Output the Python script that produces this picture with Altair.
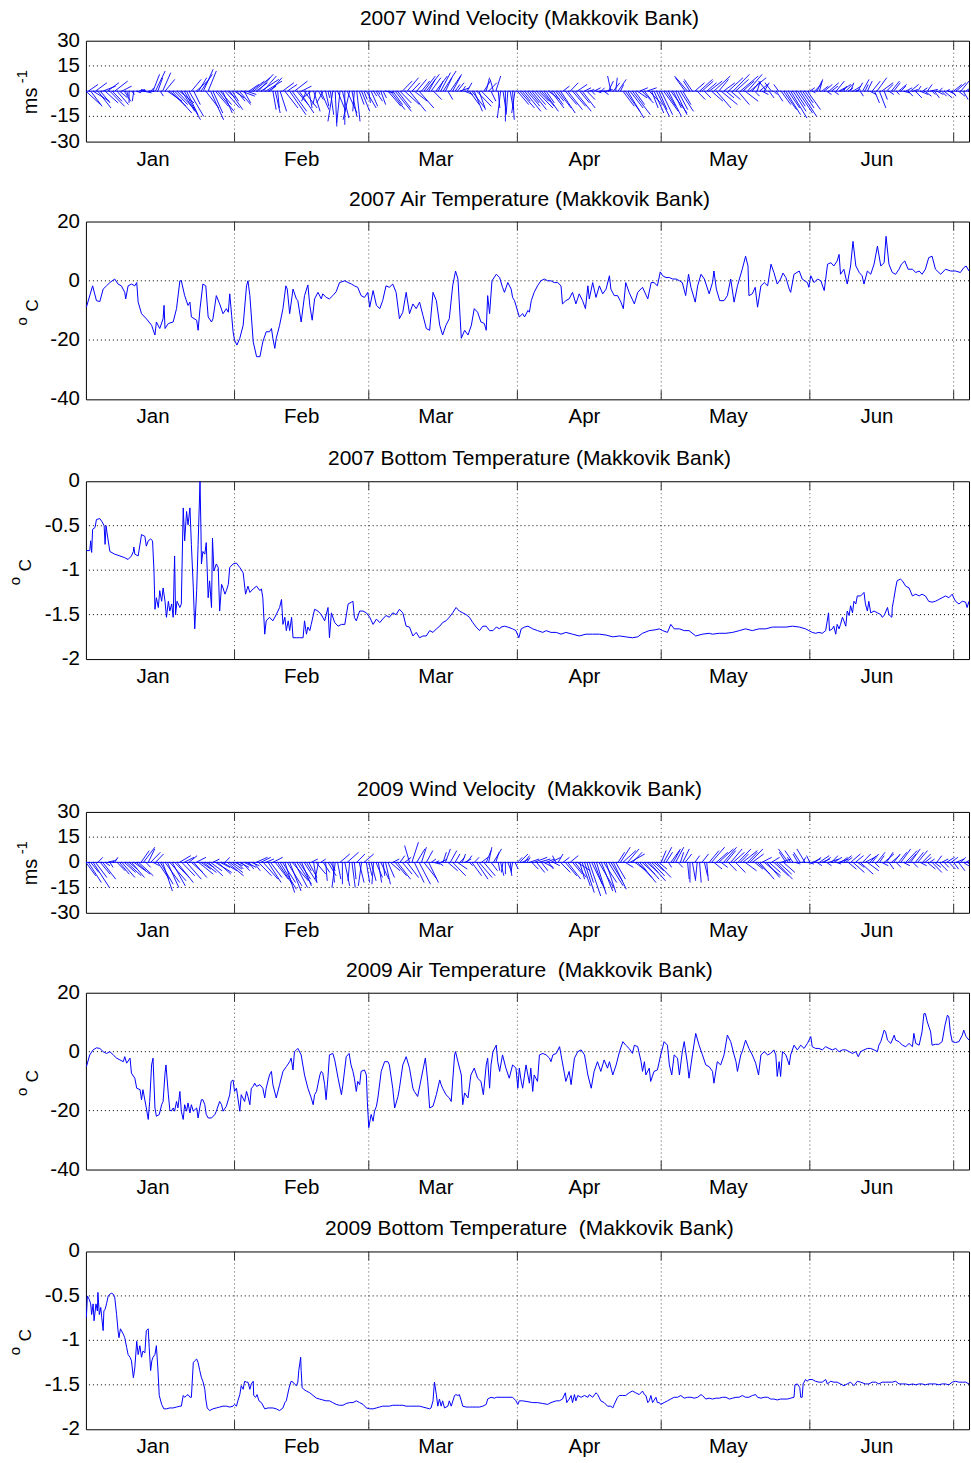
import altair as alt
import pandas as pd

# ---------------------------------------------------------------- time axis
MONTHS = ["Jan", "Feb", "Mar", "Apr", "May", "Jun"]
MONTH_START = [0, 31, 59, 90, 120, 151, 181]   # day offsets from 1 January
MONTH_MID = [14, 45, 73, 104, 134, 165]        # the 15th of each month
X_END = 184.2

# ---------------------------------------------------------------- wind sticks (m/s, every half day)
WIND_STEP = 0.5
WIND_2007_V = [
    -8, 4, -9, -6, 5, -10, -7, 3,
    -7, 5, -9, -6, 6, -8, -4, 3, -6,
    -3, -7, -2, -6, -1,
    1, 0, -1, 1, 0, 2,
    10, 12, 8, -3, 11, 7,
    -6, -9, -13, -8, -11, -7,
    -12, -17, -14, -15,
    7, -8, 6, 8,
    10, 13, -10, 12, -17, -13,
    -9, -12, -8, -13, -10, -4, -11, -6,
    -4, -6, -8, -3, -7, -2,
    4, 6, 8, 5, 10, 7, 9, 6, 3, 8,
    -11, -13, -10, -12,
    5, -10, 4, -14, -12, 6, -8, -13, 3, -10,
    -6, -10, -4, -12, -8, -5, -11, -7, -9, -4,
    -14, -18, -21, -12, -19, -16, -20, -13, -17, -15, -12, -18,
    -8, -12, -5, -10, -7, -9,
    -3, -6, -2, -8, -4, -1,
    -9, -11, -8, -12, -10, -7,
    6, -8, 8, -12, 5, -6, 7, -10,
    6, 9, 10, 7, 8, -5, 9, 6,
    11, 12, 8, -5, 10, 9,
    4, 5, 2, 3, -2, 5,
    -8, -10, -12, -9, -11, -7,
    6, 8, 5, -6, 7, 9,
    -10, -16, -12, -18, -14, -11, -17, -13,
    -8, -10, -6, -12, -9, -7, -11, -8, -10, -6, -9, -12, -7, -5, -10, -8,
    -6, -10, -13, 3, -8, -11, 5, -9, -12, 4, -7, -10, 2, -5,
    1, -2, 2, -1, 0, 2, -2, 1,
    6, 9, 5, 8, 7, 4,
    -9, -12, -16, -10, -14, -8,
    -4, 2, -7, -5, 2, -8,
    -10, -13, -15, -11, -14, -12, -9, -15, -13, -10, -14, -11, -12, -8,
    8, 9, 6, 7,
    5, -5, 7, 6, -4, 5,
    6, -6, 9, -10, 7, -8, 5, -4,
    8, -5, 10, 7, -8, 9, 6, -6, 10, 8,
    5, -3, 6, 4, -2, 5,
    6, -4, 5, -2, -6, 4,
    -8, -11, -14, -10, -16, -12, -9, -13, -15, -10, -7, -11,
    2, -1, 4, 6, 7, 3,
    4, -2, 5, 3, -2, 6, 2, 4,
    3, 4, 2, 5, 3, 1,
    5, -3, 7, 4, 6, -2,
    6, -7, 8, -10, 5, -5,
    4, -2, 6, 5, -2, 4, 3, -1,
    2, -3, 4, 1, -4, 3, -2, 2, -3, 4, 1, -2,
    -4, -2, 2, -3, -4, 1, -2, -3,
    4, 5, -3, 6, -5, 4, 3,
]
WIND_2007_U = [
    9, 6, 7, 10, 7, 8, 6, 8,
    8, 7, 9, 6, 8, 7, 5, 6, 4,
    1, 0, 2, -1, 3,
    4, 3, 5, -3, 4, 2,
    4, 6, 3, 2, 5, 6,
    9, 10, 12, 8, 11, 9,
    8, 10, 7, 9,
    6, 4, 7, 5,
    7, 6, 8, 5, 8, 6,
    8, 10, 7, 6, 9, 5, 8, 4,
    6, 5, 7, 8, 4, 6,
    6, 8, 10, 7, 9, 11, 8, 10, 5, 7,
    2, 3, 1, 4,
    7, 8, 6, 10, 9, 8, 7, 9, 6, 8,
    -3, 2, -5, 4, -2, 3, 5, -4, 2, 1,
    2, -3, 1, 5, -2, 4, 0, 6, -4, 3, -1, 2,
    3, 5, 2, 6, 1, 4,
    2, 4, 1, 3, 2, 5,
    8, 9, 6, 10, 8, 7,
    6, 9, 7, 10, 5, 8, 6, 9,
    5, 7, 8, 4, 6, 5, 7, 3,
    6, 8, 4, 3, 7, 5,
    3, 4, 6, 2, 5, 3,
    6, 8, 5, 9, 4, 7,
    4, 2, 5, 3, -2, 3,
    1, -2, 2, 0, -1, 2, 1, -2,
    7, 9, 5, 10, 8, 6, 9, 7, 10, 6, 8, 9, 5, 7, 8, 6,
    5, 8, 9, 4, 7, 9, 5, 8, 10, 6, 6, 8, 4, 5,
    3, 2, 4, 3, 5, 2, 3, 4,
    3, -2, 4, 1, 5, 2,
    7, 9, 10, 8, 11, 6,
    6, 5, 7, 4, 6, 8,
    4, 6, 8, 5, 7, 9, 6, 8, 10, 5, 7, 6, 8, 5,
    -6, -8, -4, -5,
    6, 5, 8, 7, 4, 6,
    8, 7, 10, 9, 6, 10, 7, 5,
    9, 6, 10, 8, 7, 11, 7, 8, 9, 10,
    4, 3, 2, 5, 4, 3,
    -5, 3, -4, 2, 4, -3,
    6, 8, 9, 7, 10, 8, 6, 9, 10, 7, 5, 8,
    3, 2, 4, 3, 2, 4,
    5, 3, 6, 4, 3, 5, 4, 6,
    2, 4, 3, 2, 5, 3,
    3, 2, 4, 2, 3, 4,
    5, 3, 6, 4, 7, 2,
    4, 3, 5, 4, 2, 5, 3, 4,
    4, 3, 5, 3, 4, 2, 5, 3, 4, 3, 5, 2,
    3, 4, 2, 3, 5, 2, 4, 3,
    5, 6, 4, 5, 3, 6, 4,
]
WIND_2009_V = [
    -8, -12, -6, -15, -9, 3, -7, -10,
    -2, 1, -3, 2, 3,
    -5, -7, -9, -6, -8, -4, -9, -7, -5, -8,
    7, 9, -3, 8, 6, -2, 5,
    -10, -13, -17, -12, -15, -11, -14, -9, -12,
    4, -8, 3, -10, 4, -6, -9, 3, -7,
    -4, -6, -3, -8, -5, 2, -6, -7, -3, -5, 3, -8, -6, -4,
    -2, -4, -3, -5, -2, -3, -4, -2, -5,
    3, -8, 3, -10, 2, -12, -9, 3,
    -10, -13, -16, -12, -18, -14, -17, -11, -15, -13, -10, -14, -12,
    -5, -9, 2, -12, -7, -10, 2, -6, -11, -8, -5,
    -12, -15, -10, 5, -13, -14, 6, -11, -15, -10, 5, -12, -14,
    5, -12,
    -8, -11, -13, -9, -12, -10, -8, -13, -9,
    -5, 2, -8, -10, 4, -7, 3, -9,
    10, 12, -12, 8, -13, 9, -10, 7, -12,
    2, -1, 1, -2, 2,
    6, 8, -5, 7, -8, 5, -4,
    3, 5, 2, 4, -2,
    -8, 3, -10, -9, 3, -8,
    7, 9, -5, 8, 6,
    -5, -8, -6, -7, -5, -8, -6, -4,
    3, 5, 2, 4, 3,
    2, -4, 3, -6, 2, -5, -3, 2, -4, 3, -2,
    4, 5, -6, 3, -8, -10, 4, -7, -9, -5,
    -10, -14, -18, -12, -20, -16, -13, -19, -15, -17, -12, -18, -14, -11, -16, -10,
    6, 9, 7, -3, 8, 5, 6,
    -5, -9, -12, -7, -10, -6, -11, -8, -5, -9, -4,
    7, 9, 6, -3, 8, 7, 9, -3, 6, 8,
    5, -10, -12, -11, 4, -10, -12, 5, -8, -11,
    7, 9, -4, 6, 8, -3, 9, 7, -5, 8,
    6, -6, 8, 5, 7, -5, 6, 8, 5, -4,
    -7, -10, 3, -8, -9, -6, 3, -8, -10, -7, 2, -6,
    6, 8, 3, 7, -1, 5, 6, 3, 8, -1, 4,
    2, 3, -2, 4, 2, 3, -2, 2, 4, 3, -1, 2, 3, 4,
    3, -4, 5, -6, 4, -3, -7, 5, 3, -5, 4,
    5, -3, 6, 4, -2, 5, 6, -4, 4, 5, -3,
    6, 8, -2, 7, 5, 8, -3, 6, 7, -2, 5,
    3, -4, 2, -6, -3, 4, -5, 2, -3, 3, -4,
    3, -4, 2, -5, 3, -3, 2, -4,
]
WIND_2009_U = [
    6, 8, 5, 10, 7, 3, 6, 8,
    3, 4, 2, 3, 2,
    5, 6, 8, 7, 9, 5, 8, 10, 6, 9,
    5, 7, 3, 4, 6, 4, 5,
    7, 8, 6, 9, 7, 10, 8, 9, 10,
    7, 8, 6, 9, 5, 7, 8, 6, 9,
    6, 8, 5, 9, 7, 4, 10, 8, 6, 9, 3, 10, 8, 6,
    5, 4, 6, 5, 4, 6, 3, 5, 4,
    7, 8, 6, 9, 5, 8, 7, 6,
    8, 9, 10, 8, 6, 9, 7, 10, 8, 9, 7, 6, 8,
    3, 5, 4, 2, 6, -2, 3, 4, 1, 5, 3,
    1, -2, 2, 6, 0, 3, 7, -1, 2, 1, 5, 3, -2,
    6, 2,
    2, 3, -1, 4, 2, 5, 1, 3, 4,
    6, 4, 7, 8, 3, 6, 4, 7,
    -3, 4, 6, 5, 7, 3, 8, 4, 6,
    3, 4, 2, 3, 4,
    2, 3, 6, 4, 8, 3, 6,
    3, 2, 4, 3, 2,
    6, 3, 7, 8, 4, 7,
    3, 2, 4, 5, 2,
    1, 2, -1, 0, 2, 1, -1, 2,
    3, 5, 4, 3, 2,
    6, 4, 8, 5, 7, 4, 6, 5, 3, 6, 4,
    -2, 3, 6, 4, 7, 8, 5, 6, 7, 8,
    3, 5, 6, 4, 7, 8, 5, 6, 9, 7, 8, 6, 9, 7, 8, 6,
    4, 6, 8, 5, 7, 9, 6,
    7, 9, 10, 8, 9, 7, 10, 8, 6, 9, 5,
    3, 5, 4, 2, 6, 4, 5, 3, 2, 4,
    4, 1, 0, 2, 3, -1, 1, 4, 2, 1,
    6, 8, 5, 7, 9, 4, 8, 6, 5, 7,
    7, 6, 8, 5, 9, 7, 6, 8, 7, 5,
    8, 9, 6, 10, 8, 7, 5, 9, 10, 8, 6, 7,
    -4, -6, -2, -5, 3, -3, -4, 2, -5, 4, -2,
    5, 4, 3, 6, 5, 4, 3, 6, 4, 5, 3, 6, 4, 5,
    4, 5, 6, 7, 5, 4, 8, 5, 6, 7, 4,
    4, 3, 5, 3, 4, 6, 4, 3, 5, 4, 3,
    5, 6, 4, 7, 5, 6, 3, 5, 6, 4, 5,
    4, 5, 3, 6, 4, 3, 5, 4, 3, 5, 4,
    4, 3, 5, 4, 3, 5, 4, 3,
]

# ---------------------------------------------------------------- air temperature (day, deg C)
AIR_2007 = [
    (0.1, -8.9), (1.4, -1.7), (2.2, -6.7), (2.9, -7.0), (3.6, -2.8), (4.3, -1.7), (5.0, -0.6), (6.0, 0.6), (6.7, -1.1), (7.4, -1.7),
    (8.1, -3.9), (8.3, -6.1), (8.8, -1.7), (9.5, -1.1), (10.2, -1.7), (10.6, -0.6), (10.9, -7.2), (11.6, -11.1), (12.6, -12.8), (13.7, -15.0),
    (14.4, -18.3), (14.7, -13.9), (15.4, -16.1), (16.1, -12.8), (16.3, -8.3), (16.5, -16.1), (17.2, -14.4), (18.2, -13.9), (18.9, -9.4), (19.6, 0.0),
    (19.9, 0.0), (20.6, -5.0), (21.3, -8.3), (21.7, -7.2), (22.0, -12.2), (23.1, -13.3), (23.4, -16.7), (23.8, -9.4), (24.4, -1.1), (25.0, -1.7),
    (25.5, -12.2), (26.2, -13.9), (26.5, -12.8), (27.2, -5.0), (27.9, -7.8), (28.6, -11.1), (29.3, -9.4), (29.7, -10.6), (30.0, -4.4), (30.4, -11.7),
    (30.7, -17.2), (31.0, -20.0), (31.5, -21.7), (32.1, -19.4), (32.8, -15.0), (33.5, -1.7), (33.8, 0.0), (34.2, -5.0), (34.9, -20.6), (35.6, -25.6),
    (36.3, -25.6), (36.9, -20.6), (37.6, -17.2), (38.3, -17.2), (38.7, -16.1), (39.0, -19.4), (39.4, -22.8), (39.7, -19.4), (40.4, -15.0), (41.1, -9.4),
    (41.7, -1.7), (42.0, -2.8), (42.5, -11.1), (43.2, -2.8), (43.9, -6.1), (44.2, -6.7), (44.9, -13.9), (45.6, -5.0), (46.3, -1.4), (46.7, -8.3),
    (47.2, -13.3), (47.7, -6.1), (48.4, -3.9), (49.1, -6.1), (49.4, -4.4), (50.1, -5.6), (50.8, -6.1), (51.5, -5.0), (52.2, -3.7), (52.9, -0.6),
    (54.0, 0.0), (54.7, -0.6), (55.4, -1.1), (56.0, -1.7), (56.7, -2.2), (57.4, -5.0), (58.1, -5.6), (58.8, -3.9), (59.2, -8.9), (59.9, -3.3),
    (60.6, -8.3), (61.3, -9.4), (61.9, -6.7), (62.6, -1.7), (63.3, -2.2), (64.0, -1.1), (64.7, -3.9), (65.4, -12.8), (66.1, -10.6), (66.8, -3.9),
    (67.5, -11.1), (68.2, -7.8), (68.9, -9.4), (69.6, -7.2), (70.3, -11.7), (71.0, -16.1), (71.7, -16.7), (72.4, -3.9), (73.1, -6.7), (73.8, -15.0),
    (74.4, -18.3), (75.1, -15.0), (75.8, -12.8), (76.5, -1.7), (77.1, 3.3), (77.6, 0.6), (78.3, -19.4), (79.0, -16.7), (79.7, -18.3), (80.4, -15.0),
    (81.0, -9.4), (81.7, -10.6), (82.4, -13.9), (83.1, -14.4), (83.5, -16.7), (83.8, -5.0), (84.2, -11.1), (84.7, 0.0), (85.6, 2.2), (86.3, 1.1),
    (86.9, -2.2), (87.3, -3.9), (88.0, -0.6), (88.7, -2.8), (89.0, -5.6), (89.4, -6.7), (89.7, -8.3), (90.4, -12.2), (91.1, -11.1), (91.5, -12.2),
    (92.2, -10.0), (92.5, -10.6), (92.9, -6.7), (93.5, -3.9), (94.2, -1.7), (94.9, 0.0), (95.6, 0.6), (96.3, 0.0), (97.0, 0.0), (97.7, -0.6),
    (98.4, -0.6), (99.1, -1.7), (99.4, -7.8), (100.1, -6.7), (100.8, -6.1), (101.5, -3.9), (102.2, -7.8), (102.9, -4.4), (103.6, -6.7), (104.2, -9.4),
    (104.7, -1.7), (105.0, -6.1), (105.7, -0.6), (106.4, -5.6), (107.1, -1.7), (107.8, -4.4), (108.5, -2.8), (109.2, 1.7), (109.5, -2.8), (110.2, -5.0),
    (110.9, -5.0), (111.6, -7.2), (112.1, -9.4), (112.6, -0.6), (113.3, -3.9), (114.4, -7.8), (115.1, -3.9), (116.1, -2.2), (117.2, -6.1), (117.9, -0.6),
    (118.5, -0.6), (119.2, -1.7), (119.8, 3.0), (120.3, 1.7), (121.0, 1.1), (121.7, 1.1), (122.4, 0.6), (123.1, 0.6), (123.8, 0.0), (124.4, -0.6),
    (125.1, -5.0), (125.7, 2.2), (126.2, -2.2), (127.1, -7.2), (127.6, -1.7), (128.3, 2.2), (129.0, 0.6), (130.0, -4.4), (130.7, -0.6), (131.0, 3.3),
    (131.5, -2.8), (132.2, -6.7), (133.1, -6.7), (133.8, -5.0), (134.5, 0.6), (135.2, -7.2), (135.9, -1.7), (136.9, 3.9), (137.6, 8.3), (138.1, 5.0),
    (138.3, -5.0), (139.0, -4.4), (139.6, -2.2), (140.1, -8.9), (140.8, -1.7), (141.5, -0.6), (142.2, -1.7), (142.9, 5.6), (143.5, 2.8), (144.2, -1.1),
    (144.9, 0.6), (145.4, 2.6), (146.0, 1.1), (146.7, -2.8), (147.0, -3.9), (147.7, 2.2), (148.8, 3.3), (149.4, 0.6), (150.5, -0.6), (150.8, -2.2),
    (151.2, 1.7), (151.9, -0.6), (152.6, 0.6), (153.3, 0.0), (154.0, -3.3), (154.7, 5.6), (155.4, 6.1), (156.0, 5.0), (156.7, 6.7), (157.1, 8.9),
    (157.4, 2.2), (158.1, 3.9), (158.8, -1.1), (159.5, 5.0), (160.0, 13.3), (160.6, 5.0), (161.3, 2.8), (161.9, 1.7), (162.3, -1.1), (163.0, 3.3),
    (163.7, 2.2), (164.4, 5.6), (165.1, 11.7), (165.8, 5.0), (166.5, 6.1), (166.9, 15.0), (167.5, 5.6), (168.2, 2.8), (168.9, 2.2), (169.6, 3.9),
    (170.1, 5.6), (170.8, 6.7), (171.5, 3.9), (172.4, 3.9), (173.1, 2.8), (173.8, 3.3), (174.4, 2.2), (175.1, 3.9), (175.8, 7.8), (176.5, 8.3),
    (177.2, 3.9), (178.3, 2.2), (179.3, 3.9), (180.4, 3.3), (181.4, 3.3), (182.4, 2.8), (183.1, 4.4), (183.6, 5.0), (184.2, 3.3),
]
AIR_2009 = [
    (0.1, -5.1), (0.8, -1.1), (1.5, 0.6), (2.2, 1.3), (2.9, 1.1), (3.6, 0.0), (4.3, -0.6), (5.0, 0.0), (5.7, -1.1), (6.4, -2.2),
    (7.1, -2.8), (7.8, -3.4), (8.1, -1.7), (8.5, -3.9), (9.2, -2.2), (9.5, -7.3), (10.2, -9.0), (10.6, -12.4), (11.3, -12.9), (11.6, -16.3),
    (11.9, -12.9), (12.6, -19.1), (13.0, -23.0), (13.3, -16.9), (13.7, -4.5), (14.0, -2.2), (14.4, -19.1), (14.7, -21.9), (15.3, -21.3), (15.8, -18.0),
    (16.1, -16.9), (16.5, -7.3), (16.7, -4.5), (17.2, -14.6), (17.5, -19.7), (17.8, -20.2), (18.2, -19.1), (18.5, -20.2), (18.9, -16.9), (19.2, -19.1),
    (19.6, -13.5), (19.9, -20.2), (20.3, -23.0), (20.6, -18.0), (21.0, -20.2), (21.3, -17.4), (21.7, -20.8), (22.0, -18.0), (22.4, -20.2), (23.1, -19.1),
    (23.4, -22.5), (23.8, -18.5), (24.1, -16.3), (24.4, -16.3), (24.8, -18.0), (25.1, -21.3), (25.5, -22.5), (26.2, -22.5), (26.9, -21.3), (27.2, -20.2),
    (27.9, -16.9), (28.3, -18.0), (28.6, -20.2), (29.3, -18.5), (30.0, -14.6), (30.3, -10.1), (30.7, -9.6), (31.0, -13.5), (31.4, -12.4), (32.1, -20.2),
    (32.4, -14.6), (33.1, -16.9), (33.5, -13.5), (33.8, -15.2), (34.2, -18.0), (34.5, -12.4), (34.9, -11.8), (35.2, -10.7), (35.6, -11.8), (36.3, -11.2),
    (36.9, -12.4), (37.3, -15.7), (37.6, -12.4), (38.3, -7.9), (38.7, -6.7), (39.0, -11.2), (39.7, -15.7), (40.4, -11.2), (41.1, -6.7), (41.8, -5.1),
    (42.5, -3.4), (42.8, -2.2), (43.2, -6.2), (43.5, 0.0), (43.9, 0.6), (44.2, 1.1), (44.9, -1.1), (45.6, -7.9), (46.3, -12.4), (47.0, -15.7),
    (47.4, -18.0), (47.7, -14.6), (48.1, -13.5), (48.8, -7.9), (49.1, -6.7), (49.4, -7.3), (49.8, -11.2), (50.1, -16.3), (50.5, -8.4), (50.8, -1.1),
    (51.5, -0.6), (51.9, -2.8), (52.6, -9.0), (53.3, -14.6), (53.6, -11.2), (54.3, -1.7), (54.9, -0.6), (55.3, -4.5), (55.7, -6.7), (56.0, -9.0),
    (56.4, -13.5), (56.7, -10.1), (57.1, -11.2), (57.4, -6.7), (58.1, -6.2), (58.5, -7.9), (58.7, -16.9), (59.0, -25.8), (59.5, -21.3), (59.9, -23.6),
    (60.2, -20.2), (60.6, -18.5), (60.9, -15.7), (61.6, -6.7), (62.3, -3.4), (63.0, -3.4), (63.3, -4.5), (64.0, -12.4), (64.4, -19.1), (65.1, -15.2),
    (65.4, -12.4), (66.1, -4.5), (66.8, -1.7), (67.5, -5.6), (68.2, -12.4), (68.5, -13.5), (69.2, -15.2), (70.3, -6.2), (70.8, -2.2), (71.3, -10.1),
    (71.7, -19.1), (72.4, -18.5), (73.1, -14.6), (73.8, -9.6), (74.1, -11.2), (74.4, -12.4), (75.1, -14.6), (75.8, -15.7), (76.2, -16.9), (76.9, -1.1),
    (77.1, 0.0), (77.6, -3.4), (78.3, -7.9), (78.6, -18.0), (79.0, -14.0), (79.7, -15.7), (80.3, -7.9), (81.0, -5.6), (81.7, -9.0), (82.4, -10.1),
    (82.9, -14.6), (83.5, -4.5), (83.8, -2.2), (84.2, -12.4), (84.5, -4.5), (84.9, 0.0), (85.6, 2.2), (85.9, -3.4), (86.3, -6.7), (86.9, -1.1),
    (87.6, -5.6), (88.3, -9.0), (89.0, -4.5), (89.7, -5.6), (90.1, -12.4), (90.4, -5.6), (90.8, -10.1), (91.1, -12.4), (91.8, -4.5), (92.5, -10.7),
    (92.8, -5.6), (93.2, -13.5), (93.5, -7.9), (94.2, -10.1), (94.6, -1.1), (95.3, -0.6), (96.0, -1.1), (96.7, -2.2), (97.0, -3.4), (97.4, -1.1),
    (98.1, -0.6), (98.8, 1.7), (99.1, -1.1), (99.8, -7.3), (100.1, -10.1), (100.8, -6.7), (101.2, -11.2), (101.9, -2.2), (102.6, 0.0), (103.3, 0.6),
    (104.0, -1.1), (104.7, -7.9), (105.4, -12.4), (106.0, -6.7), (106.7, -3.4), (107.4, -6.7), (108.1, -2.8), (108.8, -5.6), (109.2, -3.4), (109.9, -7.9),
    (110.6, -4.5), (111.3, 0.0), (112.0, 3.4), (112.6, 2.2), (113.3, 1.1), (114.0, -0.6), (114.4, 2.2), (115.1, 1.7), (115.8, -3.4), (116.1, -6.7),
    (116.5, -3.4), (116.8, -7.9), (117.5, -5.6), (117.8, -10.1), (118.5, -6.7), (119.2, -6.2), (119.9, -1.1), (120.6, 3.4), (121.3, 2.2), (121.7, -4.5),
    (122.2, -7.9), (122.7, -1.1), (123.4, -2.2), (123.8, -7.9), (124.4, 0.0), (124.8, 3.4), (125.5, -4.5), (125.8, -9.0), (126.5, -1.1), (127.2, 6.2),
    (127.9, 2.2), (128.6, -1.1), (129.3, -4.5), (130.0, -5.1), (130.7, -6.7), (131.0, -10.7), (131.7, -3.4), (132.4, -4.5), (133.1, -1.1), (133.8, 5.6),
    (134.5, 3.4), (135.2, -1.1), (135.6, -3.4), (135.9, -6.7), (136.6, -1.1), (136.9, 0.0), (137.6, 3.9), (138.3, 1.1), (139.0, -1.1), (139.7, -3.9),
    (140.3, -7.9), (140.8, -1.1), (141.5, 0.0), (142.2, -1.1), (142.8, -0.6), (143.5, 0.6), (143.9, -1.1), (144.2, -8.4), (144.6, -3.4), (144.9, -8.4),
    (145.3, 0.0), (146.0, -1.1), (146.7, -4.5), (147.0, -1.1), (147.7, 2.2), (148.4, 0.6), (149.1, 2.2), (149.8, 1.1), (150.5, 2.8), (151.2, 5.1),
    (151.5, 1.7), (152.2, 1.1), (152.9, 1.1), (153.6, 0.6), (154.3, 1.7), (155.0, 1.1), (155.7, 0.6), (156.4, 1.1), (157.1, 0.0), (157.8, 0.6),
    (158.5, 0.6), (159.2, 0.0), (159.9, -0.6), (160.6, 0.0), (161.1, -1.7), (161.6, 0.0), (162.3, 0.6), (163.0, 1.1), (163.7, 1.1), (164.4, 0.6),
    (165.1, 0.0), (165.4, 2.2), (165.8, 3.4), (166.5, 7.3), (166.8, 6.7), (167.2, 3.9), (167.9, 2.8), (168.6, 5.6), (168.9, 3.9), (169.6, 3.4),
    (170.3, 2.2), (171.0, 1.7), (171.7, 2.8), (172.4, 1.7), (172.7, 6.2), (173.1, 2.8), (173.8, 2.2), (174.4, 6.7), (174.8, 12.9), (175.1, 12.9),
    (175.5, 10.1), (176.2, 6.7), (176.5, 2.2), (177.2, 2.5), (177.9, 2.5), (178.6, 3.4), (179.2, 9.0), (179.7, 12.4), (180.0, 11.8), (180.3, 6.7),
    (180.7, 3.4), (181.4, 3.1), (182.1, 3.4), (182.8, 5.6), (183.1, 7.3), (183.6, 5.1), (184.2, 3.9),
]

# ---------------------------------------------------------------- bottom temperature (day, deg C)
BOTTOM_2007 = [
    (0.1, -0.78), (0.8, -0.78), (1.0, -0.67), (1.2, -0.80), (1.4, -0.54), (1.9, -0.52), (2.2, -0.43), (2.9, -0.42), (3.3, -0.45), (3.8, -0.50),
    (4.0, -0.71), (4.2, -0.50), (4.4, -0.58), (5.0, -0.79), (6.0, -0.82), (7.1, -0.84), (8.1, -0.86), (8.8, -0.88), (9.5, -0.84), (9.9, -0.79),
    (10.0, -0.74), (10.2, -0.82), (10.9, -0.84), (11.6, -0.60), (12.3, -0.62), (12.6, -0.73), (13.0, -0.67), (13.5, -0.65), (13.9, -0.67), (14.2, -1.01),
    (14.4, -1.44), (14.7, -1.31), (15.1, -1.42), (15.4, -1.23), (15.8, -1.35), (16.1, -1.20), (16.5, -1.35), (16.8, -1.53), (17.2, -1.35), (17.5, -1.46),
    (17.9, -1.38), (18.2, -1.53), (18.5, -0.84), (18.7, -1.50), (19.0, -1.35), (19.6, -1.42), (19.9, -1.38), (20.3, -0.30), (20.6, -0.67), (21.0, -0.34),
    (21.3, -0.49), (21.7, -0.30), (22.0, -0.71), (22.4, -1.20), (22.7, -1.66), (23.1, -1.23), (23.4, -0.71), (23.8, 0.00), (24.0, -0.56), (24.1, -0.93),
    (24.4, -0.79), (24.8, -0.82), (25.1, -0.69), (25.5, -1.31), (25.8, -1.12), (26.2, -1.42), (26.4, -0.64), (26.7, -1.01), (27.2, -0.93), (27.6, -0.97),
    (27.9, -1.46), (28.3, -1.16), (28.6, -1.20), (29.0, -1.27), (29.3, -1.23), (29.7, -1.16), (30.0, -0.97), (30.7, -0.93), (31.4, -0.92), (32.1, -0.97),
    (32.8, -1.03), (33.3, -1.27), (33.8, -1.18), (34.2, -1.25), (34.9, -1.21), (35.6, -1.18), (36.3, -1.23), (36.6, -1.21), (36.9, -1.31), (37.3, -1.72),
    (37.6, -1.57), (38.3, -1.53), (39.0, -1.57), (39.7, -1.50), (40.4, -1.42), (40.8, -1.33), (41.1, -1.61), (41.5, -1.53), (41.8, -1.68), (42.2, -1.57),
    (42.5, -1.68), (42.9, -1.53), (43.2, -1.76), (43.9, -1.76), (44.6, -1.76), (45.3, -1.76), (45.6, -1.57), (46.0, -1.72), (46.3, -1.64), (46.7, -1.68),
    (47.0, -1.61), (47.7, -1.44), (48.4, -1.46), (49.1, -1.50), (49.8, -1.57), (50.5, -1.42), (50.8, -1.76), (51.2, -1.48), (51.9, -1.59), (52.6, -1.63),
    (53.3, -1.61), (54.0, -1.61), (54.7, -1.38), (55.4, -1.36), (55.7, -1.35), (56.0, -1.53), (56.4, -1.57), (57.1, -1.46), (57.8, -1.46), (58.5, -1.48),
    (59.2, -1.53), (59.9, -1.61), (60.6, -1.55), (61.3, -1.59), (61.9, -1.55), (62.6, -1.51), (63.3, -1.53), (64.0, -1.48), (64.7, -1.50), (65.4, -1.44),
    (66.1, -1.48), (66.8, -1.63), (67.5, -1.64), (68.2, -1.74), (68.9, -1.70), (69.6, -1.76), (70.3, -1.74), (71.0, -1.74), (71.7, -1.68), (72.4, -1.70),
    (73.1, -1.66), (73.8, -1.63), (74.4, -1.59), (75.1, -1.57), (75.8, -1.53), (76.5, -1.48), (77.2, -1.42), (77.9, -1.46), (78.6, -1.48), (79.3, -1.50),
    (80.0, -1.53), (80.7, -1.59), (81.4, -1.64), (82.1, -1.68), (82.8, -1.63), (83.5, -1.63), (84.2, -1.68), (84.9, -1.68), (85.6, -1.64), (86.3, -1.66),
    (86.6, -1.64), (87.3, -1.63), (88.0, -1.64), (89.0, -1.66), (89.7, -1.68), (90.3, -1.76), (90.8, -1.66), (91.5, -1.64), (92.2, -1.63), (93.2, -1.66),
    (94.2, -1.68), (95.3, -1.70), (96.0, -1.68), (97.0, -1.70), (98.1, -1.70), (99.1, -1.72), (100.1, -1.70), (101.5, -1.72), (102.9, -1.74), (104.3, -1.72),
    (105.7, -1.72), (107.1, -1.72), (108.5, -1.73), (109.9, -1.75), (111.3, -1.74), (112.6, -1.75), (114.0, -1.76), (115.1, -1.75), (116.1, -1.71), (117.5, -1.68),
    (118.9, -1.67), (119.6, -1.66), (120.3, -1.68), (121.3, -1.70), (122.0, -1.61), (122.7, -1.66), (123.8, -1.66), (124.8, -1.68), (125.8, -1.68), (127.2, -1.74),
    (128.6, -1.72), (130.0, -1.71), (130.7, -1.72), (132.1, -1.71), (133.5, -1.71), (134.9, -1.70), (136.3, -1.68), (137.6, -1.66), (139.0, -1.68), (140.4, -1.66),
    (141.8, -1.66), (143.2, -1.64), (144.6, -1.64), (146.0, -1.64), (147.4, -1.63), (148.8, -1.64), (150.1, -1.66), (150.8, -1.68), (151.5, -1.70), (152.2, -1.71),
    (152.9, -1.70), (153.6, -1.71), (154.3, -1.68), (154.9, -1.48), (155.1, -1.68), (155.7, -1.66), (156.0, -1.63), (156.4, -1.72), (156.7, -1.61), (157.1, -1.66),
    (157.4, -1.61), (157.8, -1.53), (158.1, -1.57), (158.5, -1.63), (158.8, -1.46), (159.2, -1.51), (159.5, -1.40), (159.9, -1.48), (160.2, -1.35), (160.6, -1.38),
    (160.9, -1.29), (161.6, -1.29), (162.3, -1.25), (162.6, -1.38), (163.0, -1.46), (163.3, -1.35), (163.7, -1.48), (164.4, -1.46), (165.1, -1.48), (165.8, -1.50),
    (166.1, -1.53), (166.5, -1.51), (167.2, -1.42), (167.5, -1.50), (168.1, -1.53), (168.2, -1.42), (168.5, -1.33), (168.9, -1.20), (169.2, -1.12), (169.9, -1.10),
    (170.3, -1.12), (171.0, -1.18), (171.7, -1.20), (172.4, -1.29), (173.1, -1.27), (173.8, -1.29), (174.4, -1.27), (175.1, -1.29), (175.8, -1.35), (176.5, -1.36),
    (177.2, -1.35), (177.9, -1.33), (178.6, -1.31), (179.3, -1.29), (180.0, -1.31), (180.7, -1.27), (181.0, -1.31), (181.4, -1.35), (182.1, -1.38), (182.8, -1.35),
    (183.5, -1.36), (183.8, -1.42), (184.2, -1.35),
]
BOTTOM_2009 = [
    (0.1, -0.74), (0.3, -0.50), (0.7, -0.54), (1.0, -0.59), (1.2, -0.71), (1.5, -0.59), (1.7, -0.78), (2.1, -0.59), (2.4, -0.67), (2.5, -0.46),
    (2.8, -0.71), (3.1, -0.63), (3.3, -0.74), (3.6, -0.89), (3.75, -0.67), (4.0, -0.65), (4.3, -0.59), (4.65, -0.50), (5.0, -0.48), (5.35, -0.47),
    (5.7, -0.48), (6.0, -0.51), (6.4, -0.71), (6.7, -0.89), (6.9, -0.97), (7.2, -0.87), (7.8, -0.93), (8.1, -0.97), (8.5, -1.08), (8.8, -1.16),
    (9.2, -1.19), (9.5, -1.23), (9.9, -1.42), (10.2, -1.31), (10.6, -1.01), (10.9, -1.16), (11.25, -1.06), (11.6, -1.19), (11.9, -1.12), (12.3, -1.14),
    (12.6, -0.89), (13.0, -0.87), (13.2, -1.08), (13.5, -1.34), (13.75, -1.23), (14.0, -1.19), (14.4, -1.16), (14.7, -1.06), (15.0, -1.31), (15.3, -1.62),
    (15.8, -1.72), (16.25, -1.77), (16.8, -1.77), (17.5, -1.76), (18.2, -1.76), (18.9, -1.75), (19.6, -1.74), (19.9, -1.74), (20.3, -1.62), (20.6, -1.64),
    (21.0, -1.62), (21.3, -1.61), (21.7, -1.64), (22.0, -1.64), (22.4, -1.25), (22.7, -1.23), (23.1, -1.21), (23.4, -1.25), (23.75, -1.34), (24.1, -1.42),
    (24.4, -1.46), (24.8, -1.55), (25.0, -1.66), (25.3, -1.76), (25.8, -1.79), (26.5, -1.77), (27.2, -1.76), (27.9, -1.75), (28.6, -1.74), (29.3, -1.74),
    (30.0, -1.75), (30.7, -1.74), (31.0, -1.72), (31.4, -1.74), (31.7, -1.68), (32.1, -1.61), (32.4, -1.51), (32.8, -1.55), (33.1, -1.46), (33.5, -1.47),
    (33.8, -1.47), (34.2, -1.55), (34.5, -1.49), (34.9, -1.46), (35.0, -1.62), (35.4, -1.64), (35.7, -1.61), (36.1, -1.68), (36.6, -1.70), (37.3, -1.77),
    (38.0, -1.76), (39.0, -1.76), (39.7, -1.77), (40.4, -1.79), (41.1, -1.76), (41.5, -1.70), (41.8, -1.68), (42.4, -1.53), (42.8, -1.46), (43.2, -1.47),
    (43.5, -1.49), (43.9, -1.51), (44.2, -1.47), (44.4, -1.34), (44.8, -1.19), (44.9, -1.34), (45.1, -1.53), (45.4, -1.55), (46.0, -1.57), (46.7, -1.59),
    (47.4, -1.62), (48.1, -1.65), (48.75, -1.66), (49.4, -1.67), (50.1, -1.68), (50.8, -1.68), (51.5, -1.70), (52.2, -1.72), (52.9, -1.73), (53.6, -1.73),
    (54.3, -1.71), (55.0, -1.70), (55.7, -1.70), (56.4, -1.68), (57.1, -1.70), (57.8, -1.72), (58.5, -1.76), (59.2, -1.77), (59.9, -1.77), (60.6, -1.76),
    (61.25, -1.75), (61.9, -1.74), (62.6, -1.74), (63.3, -1.74), (64.0, -1.73), (64.7, -1.73), (65.4, -1.73), (66.1, -1.73), (66.8, -1.74), (67.5, -1.74),
    (68.2, -1.74), (68.9, -1.74), (69.6, -1.74), (70.3, -1.75), (71.0, -1.76), (71.7, -1.77), (72.0, -1.76), (72.4, -1.68), (72.7, -1.47), (73.1, -1.61),
    (73.4, -1.74), (73.75, -1.66), (74.1, -1.74), (74.4, -1.68), (74.8, -1.76), (75.5, -1.74), (75.8, -1.68), (76.2, -1.74), (76.9, -1.62), (77.2, -1.61),
    (77.6, -1.62), (77.9, -1.61), (78.3, -1.68), (78.6, -1.74), (79.3, -1.75), (80.0, -1.75), (80.7, -1.75), (81.4, -1.75), (82.1, -1.75), (82.8, -1.74),
    (83.5, -1.72), (83.8, -1.66), (84.5, -1.64), (85.2, -1.65), (85.6, -1.64), (86.6, -1.64), (87.6, -1.64), (89.0, -1.64), (89.7, -1.68), (90.1, -1.72),
    (90.4, -1.68), (91.1, -1.68), (92.2, -1.69), (93.2, -1.70), (94.2, -1.70), (95.3, -1.71), (96.3, -1.72), (97.0, -1.70), (98.1, -1.68), (98.75, -1.68),
    (99.4, -1.66), (100.0, -1.59), (100.3, -1.70), (100.8, -1.66), (101.2, -1.62), (101.5, -1.70), (101.9, -1.61), (102.2, -1.68), (102.6, -1.62), (103.3, -1.64),
    (104.0, -1.62), (104.7, -1.64), (105.0, -1.61), (105.7, -1.64), (106.4, -1.59), (106.75, -1.61), (107.4, -1.68), (108.1, -1.70), (108.8, -1.74), (109.5, -1.74),
    (109.9, -1.76), (110.2, -1.72), (110.9, -1.64), (111.25, -1.62), (111.9, -1.62), (112.6, -1.62), (113.3, -1.59), (114.0, -1.57), (114.7, -1.59), (115.4, -1.61),
    (116.1, -1.57), (116.5, -1.61), (116.8, -1.62), (117.2, -1.70), (117.5, -1.68), (117.85, -1.62), (118.2, -1.70), (118.9, -1.64), (119.2, -1.70), (119.6, -1.70),
    (119.9, -1.72), (120.6, -1.70), (121.3, -1.68), (122.0, -1.66), (122.7, -1.64), (123.4, -1.64), (124.1, -1.62), (124.8, -1.65), (125.5, -1.64), (126.2, -1.64),
    (126.9, -1.65), (127.6, -1.64), (128.3, -1.61), (128.6, -1.62), (129.3, -1.66), (130.0, -1.65), (130.7, -1.66), (131.4, -1.65), (132.1, -1.65), (132.8, -1.64),
    (133.5, -1.64), (134.2, -1.66), (134.9, -1.65), (135.6, -1.64), (136.25, -1.64), (136.9, -1.62), (137.6, -1.64), (138.3, -1.64), (139.0, -1.62), (139.7, -1.61),
    (140.1, -1.64), (140.8, -1.65), (141.5, -1.64), (142.2, -1.64), (142.85, -1.66), (143.5, -1.66), (144.2, -1.67), (144.9, -1.66), (145.6, -1.66), (146.3, -1.66),
    (147.0, -1.65), (147.7, -1.64), (147.9, -1.50), (148.4, -1.49), (148.9, -1.53), (149.1, -1.64), (149.4, -1.64), (149.6, -1.49), (149.8, -1.47), (150.1, -1.44),
    (150.5, -1.46), (150.8, -1.44), (151.5, -1.44), (152.2, -1.46), (152.9, -1.47), (153.6, -1.47), (154.3, -1.44), (154.65, -1.49), (155.35, -1.46), (156.0, -1.47),
    (156.7, -1.47), (157.4, -1.49), (158.1, -1.51), (158.8, -1.49), (159.5, -1.47), (160.2, -1.51), (160.9, -1.46), (161.6, -1.47), (162.6, -1.49), (163.3, -1.49),
    (164.0, -1.47), (164.7, -1.47), (165.4, -1.49), (166.1, -1.47), (166.8, -1.47), (167.5, -1.47), (168.2, -1.47), (168.9, -1.46), (169.6, -1.49), (170.3, -1.49),
    (171.0, -1.49), (171.7, -1.50), (172.4, -1.49), (173.1, -1.50), (173.75, -1.49), (174.4, -1.49), (175.1, -1.50), (175.8, -1.49), (176.5, -1.49), (177.2, -1.49),
    (177.9, -1.50), (178.6, -1.49), (179.3, -1.49), (180.0, -1.50), (180.7, -1.47), (181.4, -1.46), (182.1, -1.47), (182.8, -1.47), (183.5, -1.47), (184.2, -1.49),
]

# ---------------------------------------------------------------- styling
FONT = "Liberation Sans"
BLUE = "#0000ff"
PLOT_W = 884
STICK_DAYS_PER_MS = 0.34   # horizontal extent of a 1 m/s stick, in days
TICK_LEN = 9
LABEL_SIZE = 20.5
TITLE_SIZE = 21

x_scale = alt.Scale(domain=[0, X_END], nice=False, zero=False)


def text_layer(df, size, align, baseline, angle=0, **enc):
    props = dict(font=FONT, fontSize=size, align=align, baseline=baseline, color="black")
    if angle:
        props["angle"] = angle
    return alt.Chart(df).mark_text(**props).encode(**enc)


def frame(height, y_dom, y_ticks, title, ylabel_parts, data_layers):
    y_scale = alt.Scale(domain=y_dom, nice=False, zero=False)

    months_df = pd.DataFrame({"day": MONTH_START[1:]})
    inner = [v for v in y_ticks if y_dom[0] < v < y_dom[1]]

    vgrid = alt.Chart(months_df).mark_rule(color="#555555", strokeDash=[1, 3], strokeWidth=1).encode(
        x=alt.X("day:Q", scale=x_scale, axis=None))
    hgrid = alt.Chart(pd.DataFrame({"val": inner})).mark_rule(color="#000000", strokeDash=[1, 3], strokeWidth=1).encode(
        y=alt.Y("val:Q", scale=y_scale, axis=None))
    top_ticks = alt.Chart(months_df).mark_rule(color="#333333", strokeWidth=1).encode(
        x=alt.X("day:Q", scale=x_scale, axis=None), y=alt.value(0), y2=alt.value(TICK_LEN))
    bottom_ticks = alt.Chart(months_df).mark_rule(color="#333333", strokeWidth=1).encode(
        x=alt.X("day:Q", scale=x_scale, axis=None), y=alt.value(height), y2=alt.value(height - TICK_LEN))

    # month names under the frame
    xlabels = text_layer(pd.DataFrame({"day": MONTH_MID, "name": MONTHS}), LABEL_SIZE, "center", "alphabetic",
                         x=alt.X("day:Q", scale=x_scale, axis=None), y=alt.value(height + 24), text="name:N")
    # value labels left of the frame
    ylabels = text_layer(pd.DataFrame({"val": y_ticks, "txt": [f"{v:g}" for v in y_ticks]}), LABEL_SIZE, "right", "middle",
                         x=alt.value(-6), y=alt.Y("val:Q", scale=y_scale, axis=None), text="txt:N")
    title_mark = text_layer(pd.DataFrame({"s": [title]}), TITLE_SIZE, "center", "alphabetic",
                            x=alt.value(PLOT_W / 2 + 2), y=alt.value(-16), text="s:N")
    unit_marks = [
        text_layer(pd.DataFrame({"s": [text]}), size, "left", "alphabetic", angle=270,
                   x=alt.value(px), y=alt.value(py), text="s:N")
        for text, size, px, py in ylabel_parts
    ]

    layers = ([vgrid, hgrid] + [lay(y_scale) for lay in data_layers] + [top_ticks, bottom_ticks]
              + [xlabels, ylabels, title_mark] + unit_marks)
    return alt.layer(*layers).properties(width=PLOT_W, height=height)


def line_layer(pairs):
    df = pd.DataFrame(pairs, columns=["t", "v"])

    def make(y_scale):
        return alt.Chart(df).mark_line(color=BLUE, strokeWidth=1, clip=True).encode(
            x=alt.X("t:Q", scale=x_scale, axis=None),
            y=alt.Y("v:Q", scale=y_scale, axis=None),
        )
    return make


def stick_layers(u_list, v_list):
    n = min(len(u_list), len(v_list))
    t = [i * WIND_STEP for i in range(n)]
    df = pd.DataFrame({
        "t": t,
        "tip": [t[i] + u_list[i] * STICK_DAYS_PER_MS for i in range(n)],
        "base": [0] * n,
        "v": v_list[:n],
    })

    def sticks(y_scale):
        return alt.Chart(df).mark_rule(color=BLUE, strokeWidth=0.9, clip=True).encode(
            x=alt.X("t:Q", scale=x_scale, axis=None), x2="tip:Q",
            y=alt.Y("base:Q", scale=y_scale, axis=None), y2="v:Q",
        )

    def zero_line(y_scale):
        return alt.Chart(pd.DataFrame({"z": [0]})).mark_rule(color=BLUE, strokeWidth=1).encode(
            y=alt.Y("z:Q", scale=y_scale, axis=None))
    return [sticks, zero_line]


def wind_label(h):
    return [("ms", 20, -49, h / 2 + 23), ("-1", 15, -59, h / 2 - 8)]


def temp_label(h, shift):
    return [("o", 15, -59 - shift, h / 2 + 15), ("C", 17, -48 - shift, h / 2 + 1)]


NBSP = "\u00a0"
H_WIND, H_TEMP = 101, 178

panels = [
    frame(H_WIND, [-30, 30], [-30, -15, 0, 15, 30], "2007 Wind Velocity (Makkovik Bank)",
          wind_label(H_WIND), stick_layers(WIND_2007_U, WIND_2007_V)),
    frame(H_TEMP, [-40, 20], [-40, -20, 0, 20], "2007 Air Temperature (Makkovik Bank)",
          temp_label(H_TEMP, 0), [line_layer(AIR_2007)]),
    frame(H_TEMP, [-2, 0], [-2, -1.5, -1, -0.5, 0], "2007 Bottom Temperature (Makkovik Bank)",
          temp_label(H_TEMP, 7), [line_layer(BOTTOM_2007)]),
    frame(H_WIND, [-30, 30], [-30, -15, 0, 15, 30], f"2009 Wind Velocity {NBSP}(Makkovik Bank)",
          wind_label(H_WIND), stick_layers(WIND_2009_U, WIND_2009_V)),
    frame(177, [-40, 20], [-40, -20, 0, 20], f"2009 Air Temperature {NBSP}(Makkovik Bank)",
          temp_label(177, 0), [line_layer(AIR_2009)]),
    frame(H_TEMP, [-2, 0], [-2, -1.5, -1, -0.5, 0], f"2009 Bottom Temperature {NBSP}(Makkovik Bank)",
          temp_label(H_TEMP, 7), [line_layer(BOTTOM_2009)]),
]


def spacer(h):
    return alt.Chart(pd.DataFrame({"a": [0]})).mark_point(opacity=0).encode(
        x=alt.value(0), y=alt.value(0)
    ).properties(width=PLOT_W, height=h, view=alt.ViewBackground(strokeOpacity=0))


GAPS = [80, 82, 153, 80, 82]
stack = [panels[0]]
for gap, p in zip(GAPS, panels[1:]):
    stack += [spacer(gap), p]

chart = alt.vconcat(*stack, spacing=0, bounds="flush").resolve_scale(
    x="independent", y="independent"
).properties(
    padding={"left": 7, "top": 6, "right": 1, "bottom": 1},
    background="white",
).configure_view(stroke="black", strokeWidth=1)

chart.save("out.html", embed_options={"renderer": "svg", "actions": False})
